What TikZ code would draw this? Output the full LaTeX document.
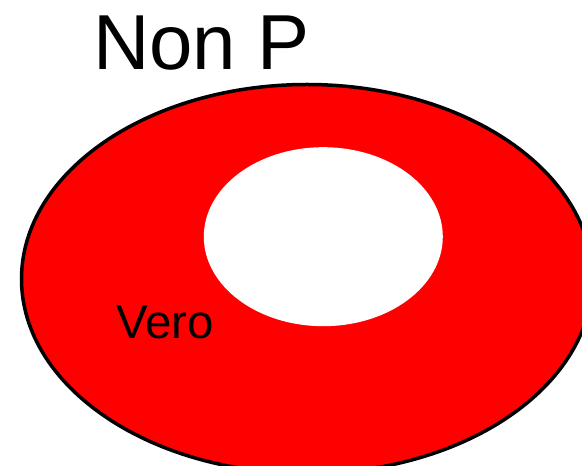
\documentclass[tikz,border=0pt]{standalone}
\usepackage{fontspec}
\setmainfont{Liberation Sans}
\usepackage{tikz}
\usepackage{xcolor}
\usetikzlibrary{positioning,shapes.geometric}
\definecolor{setred}{HTML}{FF0000}
\definecolor{ink}{HTML}{000000}
\tikzset{
  setbody/.style={ellipse,draw=ink,fill=setred,line width=3.5pt,inner sep=0pt,
                  minimum width=571pt,minimum height=389pt},
  holebody/.style={ellipse,draw=none,fill=white,inner sep=0pt,
                   minimum width=239pt,minimum height=179pt},
  bigtitle/.style={font=\fontsize{78}{84}\selectfont,color=ink,inner sep=0pt,
                   anchor=base west},
  setlabel/.style={font=\fontsize{47.5}{52}\selectfont,color=ink,inner sep=0pt,
                   anchor=base west}
}
\begin{document}
\begin{tikzpicture}[x=1pt,y=1pt]
    \clip (0,0) rectangle (582,466);
    \fill[white] (0,0) rectangle (582,466);
    % the set and the hole in it
    \node[setbody] (nonp) at (307,187) {};
    \node[holebody] (hole) at (323.3,229.3) {};
    % texts
    \node[bigtitle] (title) at (93,396) {Non P};
    \node[setlabel] (vero) at (116,127) {Vero};
  \end{tikzpicture}
\end{document}
